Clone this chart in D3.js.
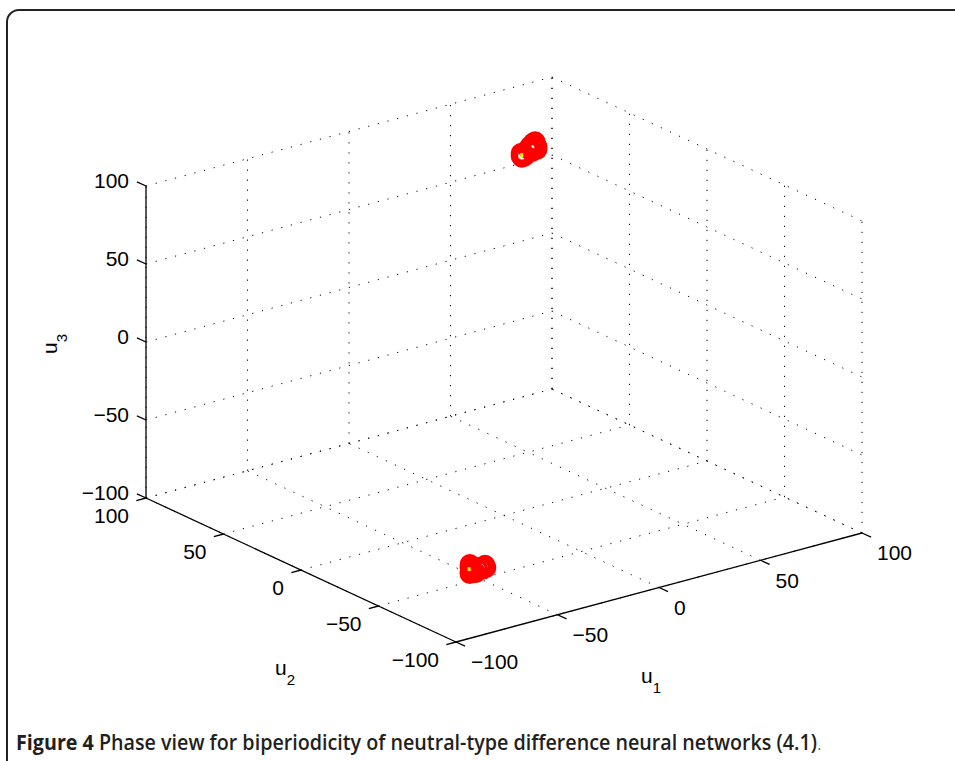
<!DOCTYPE html>
<html>
<head>
<meta charset="utf-8">
<title>Figure 4 phase view</title>
<style>
  body { margin: 0; background: #fff; }
  svg { display: block; }
</style>
</head>
<body>
<script src="https://cdn.jsdelivr.net/npm/d3@7"></script>
<script>

var width = 955,
    height = 761;

// tick values of the three axes
var u1Ticks = [-100, -50, 0, 50, 100];
var u2Ticks = [-100, -50, 0, 50, 100];
var u3Ticks = [-100, -50, 0, 50, 100];

// trajectory points (red circles)
var u1Values = [51, 54, 54.5, 52, 53.4, 54.5, 52.5, 50, 46.5, 47.5, 46.5, 47, 53.5, 51.5, 48.5,
                -55, -54, -55, -53, -55, -52, -49.5, -47.5, -47, -48.5, -54.4, -51, -55];
var u2Values = [50, 50, 50, 50, 50, 50, 50, 50, 50, 50, 50, 50, 50, 50, 50,
                -50, -50, -50, -50, -50, -50, -50, -50, -50, -50, -50, -50, -50];
var u3Values = [96, 96, 92.5, 92, 94.4, 94.2, 97.5, 94.4, 91.2, 92.7, 92.9, 90, 98, 93, 90.5,
                -91, -90.5, -93.9, -94, -89, -95.5, -92.6, -92, -94, -94.5, -92.2, -93.5, -95];

// initial points (small yellow marks)
var startU1 = [46.9, -55.4];
var startU2 = [50, -50];
var startU3 = [91.6, -91.9];

var captionBold = "Figure 4";
var captionText = " Phase view for biperiodicity of neutral-type difference neural networks (4.1)";

var svg = d3.select("body").append("svg")
    .attr("width", width)
    .attr("height", height);

// frame with rounded corner
svg.append("rect")
    .attr("x", 7).attr("y", 10)
    .attr("width", 1000).attr("height", 800)
    .attr("rx", 12)
    .attr("fill", "none")
    .attr("stroke", "#222")
    .attr("stroke-width", 2);

// projection: screen position of corner (-100,-100,-100) plus one vector per axis
var s1 = d3.scaleLinear().domain([-100, 100]).range([0, 1]);
var s2 = d3.scaleLinear().domain([-100, 100]).range([0, 1]);
var s3 = d3.scaleLinear().domain([-100, 100]).range([0, 1]);
var corner = [456, 642],
    E1 = [406, -109],
    E2 = [-310, -144],
    E3 = [0, -312];

function P(a, b, c) {
  var t1 = s1(a), t2 = s2(b), t3 = s3(c);
  return [corner[0] + t1 * E1[0] + t2 * E2[0] + t3 * E3[0],
          corner[1] + t1 * E1[1] + t2 * E2[1] + t3 * E3[1]];
}

var line = d3.line();

// grid lines on the back walls and floor
var grid = [];
u3Ticks.forEach(function(z) {
  grid.push([P(-100, 100, z), P(100, 100, z)]);
  grid.push([P(100, 100, z), P(100, -100, z)]);
});
u1Ticks.forEach(function(a) {
  grid.push([P(a, 100, -100), P(a, 100, 100)]);
  grid.push([P(a, -100, -100), P(a, 100, -100)]);
});
u2Ticks.forEach(function(b) {
  grid.push([P(100, b, -100), P(100, b, 100)]);
  grid.push([P(-100, b, -100), P(100, b, -100)]);
});

svg.append("g").selectAll("path").data(grid)
  .enter().append("path")
    .attr("d", line)
    .attr("fill", "none")
    .attr("stroke", "#000")
    .attr("stroke-width", 1)
    .attr("stroke-dasharray", "1.2,8.8");

// axis lines
var axes = [
  [P(-100, 100, -100), P(-100, 100, 100)],
  [P(-100, 100, -100), P(-100, -100, -100)],
  [P(-100, -100, -100), P(100, -100, -100)]
];
svg.append("g").selectAll("path").data(axes)
  .enter().append("path")
    .attr("d", line)
    .attr("stroke", "#000")
    .attr("stroke-width", 1.3);

var fmt = d3.format("d");
var tickFont = "'Liberation Sans', Arial, Helvetica, sans-serif";
var tickSize = 21;

function unit(v, len) {
  var n = Math.sqrt(v[0] * v[0] + v[1] * v[1]);
  return [v[0] / n * len, v[1] / n * len];
}

// u3 axis ticks (point towards +u2)
var dz = unit(E2, 10);
var gz = svg.append("g");
gz.selectAll("path").data(u3Ticks).enter().append("path")
    .attr("d", function(d) { var p = P(-100, 100, d); return line([p, [p[0] + dz[0], p[1] + dz[1]]]); })
    .attr("stroke", "#000").attr("stroke-width", 1.3);
gz.selectAll("text").data(u3Ticks).enter().append("text")
    .attr("x", function(d) { return P(-100, 100, d)[0] - 17; })
    .attr("y", function(d) { return P(-100, 100, d)[1] - 5; })
    .attr("dy", "0.35em")
    .attr("text-anchor", "end")
    .attr("font-family", tickFont).attr("font-size", tickSize)
    .text(fmt);

// u2 axis ticks (point towards -u1)
var d2 = unit([-E1[0], -E1[1]], 10);
var g2 = svg.append("g");
g2.selectAll("path").data(u2Ticks).enter().append("path")
    .attr("d", function(d) { var p = P(-100, d, -100); return line([p, [p[0] + d2[0], p[1] + d2[1]]]); })
    .attr("stroke", "#000").attr("stroke-width", 1.3);
g2.selectAll("text").data(u2Ticks).enter().append("text")
    .attr("x", function(d) { return P(-100, d, -100)[0] - 17; })
    .attr("y", function(d) { return P(-100, d, -100)[1] + 18; })
    .attr("dy", "0.35em")
    .attr("text-anchor", "end")
    .attr("font-family", tickFont).attr("font-size", tickSize)
    .text(fmt);

// u1 axis ticks (point towards -u2)
var d1 = unit([-E2[0], -E2[1]], 10);
var g1 = svg.append("g");
g1.selectAll("path").data(u1Ticks).enter().append("path")
    .attr("d", function(d) { var p = P(d, -100, -100); return line([p, [p[0] + d1[0], p[1] + d1[1]]]); })
    .attr("stroke", "#000").attr("stroke-width", 1.3);
g1.selectAll("text").data(u1Ticks).enter().append("text")
    .attr("x", function(d) { return P(d, -100, -100)[0] + 15; })
    .attr("y", function(d) { return P(d, -100, -100)[1] + 20; })
    .attr("dy", "0.35em")
    .attr("text-anchor", "start")
    .attr("font-family", tickFont).attr("font-size", tickSize)
    .text(fmt);

// axis labels
function axisLabel(x, y, sub, rotate) {
  var t = svg.append("text")
      .attr("font-family", tickFont).attr("font-size", tickSize)
      .attr("transform", "translate(" + x + "," + y + ")" + (rotate ? " rotate(-90)" : ""));
  t.append("tspan").text("u");
  t.append("tspan").attr("font-size", 15).attr("dy", 10).text(sub);
}
axisLabel(641, 683, "1", false);
axisLabel(275, 675, "2", false);
axisLabel(57, 354, "3", true);

// red circle markers
var pts = u1Values.map(function(d, i) { return P(d, u2Values[i], u3Values[i]); });
svg.append("g").selectAll("circle").data(pts)
  .enter().append("circle")
    .attr("cx", function(d) { return d[0]; })
    .attr("cy", function(d) { return d[1]; })
    .attr("r", 8.5)
    .attr("fill", "none")
    .attr("stroke", "#ff0000")
    .attr("stroke-width", 3.5);

var starts = startU1.map(function(d, i) { return P(d, startU2[i], startU3[i]); });
svg.append("g").selectAll("rect").data(starts)
  .enter().append("rect")
    .attr("x", function(d) { return d[0] - 1.5; })
    .attr("y", function(d) { return d[1] - 2; })
    .attr("width", 3).attr("height", 4)
    .attr("fill", "#ffee00");

// caption, squeezed horizontally to the width of the original
var cap = svg.append("text")
    .attr("font-family", "'Open Sans', sans-serif")
    .attr("font-size", 22)
    .attr("fill", "#231f20");
cap.append("tspan").attr("font-weight", "bold").text(captionBold);
cap.append("tspan").attr("font-weight", 600).text(captionText);
cap.append("tspan").attr("font-weight", 300).attr("fill", "#555").text(".");
var capW = cap.node().getComputedTextLength();
cap.attr("transform", "translate(16,750) scale(" + (806 / capW) + ",1)");

</script>
</body>
</html>
